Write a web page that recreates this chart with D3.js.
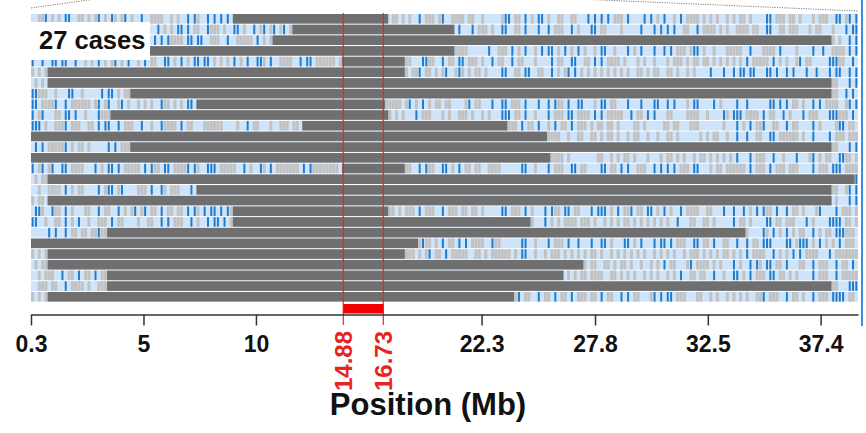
<!DOCTYPE html>
<html><head><meta charset="utf-8">
<script src="https://cdn.jsdelivr.net/npm/d3@7"></script>
<style>body{margin:0;background:#fff}svg{display:block}</style>
</head><body><svg id="c" width="866" height="433"></svg>
<script>
// ---------------- data ----------------
const markerCount = 250;                       // markers along the chromosome (x = marker index)
const cases = d3.range(1, 28).map(i => "case" + i);
// run of homozygosity per case: first marker, end marker (exclusive)
const rohStart = [61, 79, 73, 30, 94, 5, 5, 30, 50, 24, 82, 0, 30, 0, 94, 5, 50, 5, 61, 61, 23, 0, 5, 5, 23, 23, 5];
const rohEnd   = [108,128,242,128,113,113,242,242,107,108,144,156,242,157,113,249,242,242,108,151,216,117,113,167,161,242,146];
// genotype per marker: "." common, "g" grey call, "b" blue call; "_N" = N groups of 10 common markers
const genotypes = [
"..ggb.g.g. bb..gg.g.g b.g.bg.gb. g..b..gggg ..g.g..b.b g..b.b.b.b _4 .........g g.g.g..b.g gg.gb..ggg g.gg..g... ..gbb.gg.b .g.bb.g..g g..gg...b. b.b.b.ggg. b....b.b.g .b..g.b.gg gg.g.g.g.. g.g.gg.g.. ..bb.ggg.g g.g...g.gg g..bb.gb.b",
"g.g..b.g.. .gb..g.g.b ..g.g.b.gg .g..g...b. g.g.bb.b.g g..bggg.g. .bb.g..b.g b.gb.gb.g. _4 .........b ...b.ggg.g ..bb..gg.b ...b..b.gg g..b.g...b b.gg....g. ....b...b. b.b.b..gg. .b.gggg.g. g..gggg.gg ..bb..gg.g gg...g.gg. ..g...b.bb",
".g.bg..g.. g.b..g.gb. .gg.b..g.g ..g.g..b.b .bgggg.bb. bb..ggg..b ..ggggg.b. g.g....... _16 ..g.g..b.b",
"g.gb.g..g. b..g.g.b.. g.b..gg.b. _9 ........gg gg......b. .ggg.b.g.b ..g.b.bb.g .b.g.b.g.. g.bb..g... b.g.b...b. .b.b.ggg.g bb.g..g... ggggg..b.. .gggg.b... .g....b..b ..gggg.b.b",
"b..b..bb.b b..b..g.g. b.g.gb.g.b ..g.b.gg.. bb.g.b.g.b b.bb.g.g.g .b.g.b..bb g.b..gggg. .b.bb.gggg gg.g...... _1 ...gg...bb gg..b.gg.b b.ggg.g..b .gg..b.gg. ..g....b.g g..bb..gg. b.b.gggg.g ...g.g..g. ..g.ggg.g. gg.gg.g.g. g.g.g.b.gg ggg.b.g.g. .gb.gg.... .bbbgg..b.",
"g.g.g..... _10 ..gg.ggb.g g.g.gb..gb g.g.gg.g.. ..bb..gg.b b..gg..b.g .gb.b.g.g. g.g.g.g.g. g..gg.g.gg ..gg.g..g. g....b...b ..b.bb.bb. ..bb.b..b. b...b..b.. .b.bb..b.b",
".g.g...... _23 ..gg...b.b",
"bbggg..g.. .bb..g.... .b.bb.g.gg _21 ..gg..b.b.",
"bb.ggggb.. b.gggggg.g b.gb..gb.g ..g.g.g..b gg.g.g.bb. _5 .......ggg gg.gb.g.b. g.gg.gg... .gb.gg...b ..bb.ggg.b ...b..b.bg g.b..bb... g.bb.gg... b...b...bb ..b.b...g. bb....b.g. ...b..b... ...bb.b.b. gg.g..b.b. gggg..gb.b",
"b.gb...gg. bb.b..g... bggg...... _7 ........g. g.g...b.gg g...g.g..g gg.g..g.g. ..bbb.gg.b ..g...b.gg g.bb.gggg. b.b.ggggg. .b.gg.b.b. ..gg....gg gg..g....b g.bbb.gggg .b.gg..b.g ...b.ggg.. .bbbggg.b.",
"bbb.g..ggg b.ggg..gg. b.bb..b.gg g..b..g..b gggg.b.gg. ..gggggg.. ..g..b.gg. ..g..ggg.g g......... _5 ....ggg.b. gg.b..g.b. gg.b.ggg.g .gg.gg.g.. ..gg.g.... .gg.gg...g gg.......g ...b.g.b.g gb..gg..b. gg....b.g. ...gbb.gg.",
"_15 ......gggg ..g..gg..g g.g.gg.g.. g.gg..g..g ..gg.g.... ..g.g.gg.. g..b..b..g g..bb.gggg gg.g..b... .b.ggg.ggg",
".b.b.ggggg b.g.gg.g.. ...b.b.ggg _21 ..gg...b.b",
"_15 .......ggg g.g....... .gg..g.g.g g.g...g... g.gg.g.g.. g.gg.g.g.g .g.b...b.g gg..b..g.. .b...gb.g. gg..bbgg.g",
"b.gb.gb..b b.gggg...b .g.bb.b.gg ggg.b.bgg. bb.ggggb.b g..bbb.ggg gg..b.g..b g.b.gggggg g.b.bggggg ggg....... _1 ...gg..b.b gg..bb.g.b .gg.gg..gg gg......bb ..g...b.gg g..bb.gg.. ..bb.gg.b. b..ggg..b. b.b.b.ggg. bb...g.gg. gggggg.b.g gg.b.ggg.g gg....b.gg g.bbb.gggg",
".g.gg..... _23 .........b",
"..g..gggg. b.g.gg.... b.gbb.gb.. ..ggg.b..b g.ggg...b. _19 ..gg..gb.b",
"g.gg...... _23 .g.g...b.b",
".bbg..bgg. b.g...gg.. b.gg..b.g. gb.gb.gg.b .gg.gg.b.b g.b.bb.b.b g......... _3 ........gg .g.ggg.b.g gg..b.ggg. gg.gg.g... ..bb.ggg.b .g...b.bgg .bb.gg...b .bbb.g.b.g gb.gg.bb.g .b.g..b.gg gg..gg...b ..b..b.g.b .bgg.b..b. gg.g...gb. ...b.ggg.g",
"bb..g..gg. b.g.b..g.. ggg.b.gg.. ..g..gg..b .b.ggg..b. g..b.bb.b. g......... _8 .g...b.g.g .gggg.ggg. g..g.g.g.g g.g.g.g.g. g.g..b...g g..gg.g... ..b.gg.g.. ..bb.gg.gg g...b.g... .bbbb.gg.g",
".....b.b.. b.gg.gg.gg bgg....... _18 ......g... .bg.b.g.b. g.gg..b.g. gg.bbbggg.",
"_11 .......gbg g.g.b.gg.b .b.gggg..b gg......bb ..g...b.gg g.b..b...b ..bb.g...b b.g.b...b. bb.b.ggg.. bb.gg.b..g g..b..b.gg .bbb....bb .gbbb.g.b. g.g.b.ggg.",
"g.g.g..... _10 ..gggg.g.g b.gg.b.ggg gg..gg.g.g ggggg.g.bb ..g..g.ggg .g.g.g.g.g g.g..g.g.g .g.g.g..g. g.g.g..g.g gg.g.g.g.g g.g.g.b.gg gg..b.g.g. b.b.gggg.. .b.ggggggg",
".g.gg..... _15 .......g.g g..gg.g.gg .g..g..g.g .b.gg...gb .gggg.g.g. ..b.g..b.b g.bb.gg.b. ..gg..b.gg g..b.gg.b.",
"..g.ggg..b .gg.b.gg.b .gg....... _13 ..g.g.gg.g ggg..gg.g. g.g..g.g.g ..g.g.b..g g.gg..b..g ..bb.g.b.g gg.bb.gg.g .g....b.gg g..b.ggggg",
"..ggg.gg.. b.gggg.g.. ggg....... _21 ..gg...bbb",
"g.g.g..... _13 ......gb.g g..b.gg.b. gg.b.ggg.g g.b.gg..b. b.gg...gb. b.bb.ggg.. .gg..g.g.. g.g.g.g..g gb.ggg..b. gg.g..b.gg g.bbbb.gg."
];
// axis: marker index at which each labelled position (Mb) sits
const tickMarker = [0, 34, 68, 94.4, 106.5, 136.2, 170.5, 204.6, 238.7];
const tickLabels = ["0.3", "5", "10", "14.88", "16.73", "22.3", "27.8", "32.5", "37.4"];
const regionTicks = ["14.88", "16.73"];        // shared minimal region, drawn in red
const caseLabel = "27 cases";
const axisTitle = "Position (Mb)";

// ---------------- drawing ----------------
const FONT = "'Liberation Sans', Arial, Helvetica, sans-serif";
const COL = { bg: "#cde4fa", g: "#c2c2c2", b: "#1f7bcc", roh: "#6f6f6f", red: "#e8241f" };
const CALL_WIDTH = { g: 0.9, b: 0.6 };         // share of a marker slot each call type fills

function decode(s) {
  let out = "";
  s.trim().split(/\s+/).forEach(t => {
    if (t[0] === "_") out += ".".repeat(10 * (+t.slice(1) || 1));
    else out += t.padEnd(10, ".").slice(0, 10);
  });
  return out.padEnd(markerCount, ".").slice(0, markerCount);
}

const svg = d3.select("#c");
const x = d3.scaleLinear().domain([0, markerCount]).range([31, 858]);
const y = d3.scaleBand().domain(cases).range([14, 301.6]).paddingInner(0.1).paddingOuter(0);

// connector lines at the top (zoom from parent panel)
svg.append("line").attr("x1", x(0)).attr("y1", 8).attr("x2", 92).attr("y2", -0.5)
  .attr("stroke", "#808080").attr("stroke-dasharray", "1.2,1.2");
svg.append("line").attr("x1", 590).attr("y1", -0.5).attr("x2", x(markerCount)).attr("y2", 11)
  .attr("stroke", "#808080").attr("stroke-dasharray", "1.2,1.2");

const rows = svg.append("g");
cases.forEach((c, r) => {
  const g = rows.append("g");
  g.append("rect").attr("x", x(0)).attr("y", y(c))
    .attr("width", x(markerCount) - x(0)).attr("height", y.bandwidth()).attr("fill", COL.bg);
  const calls = decode(genotypes[r]).split("").map((ch, i) => ({ ch, i })).filter(d => d.ch !== ".");
  g.selectAll("rect.m").data(calls).join("rect").attr("class", "m")
    .attr("x", d => x(d.i + (1 - CALL_WIDTH[d.ch]) / 2)).attr("y", y(c))
    .attr("width", d => x(d.i + CALL_WIDTH[d.ch]) - x(d.i)).attr("height", y.bandwidth())
    .attr("fill", d => COL[d.ch]);
  g.append("rect").attr("x", x(rohStart[r])).attr("y", y(c))
    .attr("width", x(rohEnd[r]) - x(rohStart[r])).attr("height", y.bandwidth()).attr("fill", COL.roh);
});

// shared region
const regIdx = regionTicks.map(l => tickMarker[tickLabels.indexOf(l)]);
svg.selectAll("line.reg").data(regIdx).join("line").attr("class", "reg")
  .attr("x1", d => x(d)).attr("x2", d => x(d)).attr("y1", 13).attr("y2", 325)
  .attr("stroke", COL.red).attr("stroke-width", 1.2);
svg.append("rect").attr("x", x(regIdx[0])).attr("y", 304)
  .attr("width", x(regIdx[1]) - x(regIdx[0])).attr("height", 9.5).attr("fill", "#f00000");

// axis
const blackTicks = tickMarker.filter((d, i) => !regionTicks.includes(tickLabels[i]));
const axis = d3.axisBottom(x).tickValues(blackTicks)
  .tickFormat(d => tickLabels[tickMarker.indexOf(d)]).tickSize(11).tickSizeOuter(0);
const ag = svg.append("g").attr("transform", "translate(0,314.5)").call(axis);
ag.select(".domain").attr("stroke", "#333").attr("stroke-width", 1.6);
ag.selectAll(".tick line").attr("stroke", "#333").attr("stroke-width", 1.5);
ag.selectAll(".tick text").attr("y", 37.5).attr("dy", 0)
  .attr("font-family", FONT).attr("font-size", 23).attr("font-weight", "bold").attr("fill", "#111");

svg.selectAll("text.reg").data(regionTicks).join("text").attr("class", "reg")
  .attr("transform", (d, i) => `translate(${x(regIdx[i])},331) rotate(-90)`)
  .attr("text-anchor", "end").attr("dy", "0.36em")
  .attr("font-family", FONT).attr("font-size", 24).attr("font-weight", "bold")
  .attr("fill", COL.red).text(d => d);

svg.append("text").attr("x", 428).attr("y", 415).attr("text-anchor", "middle")
  .attr("font-family", FONT).attr("font-size", 31).attr("font-weight", "bold").attr("fill", "#111")
  .text(axisTitle);

// case count label
svg.append("rect").attr("x", 31).attr("y", 22).attr("width", 119).attr("height", 38).attr("fill", "#fff");
svg.append("text").attr("x", 39).attr("y", 48.5)
  .attr("font-family", FONT).attr("font-size", 25.5).attr("font-weight", "bold").attr("fill", "#111")
  .text(caseLabel);

// panel frame edge on the right
svg.append("line").attr("x1", 862).attr("x2", 862).attr("y1", 0).attr("y2", 326)
  .attr("stroke", "#3a8fe0").attr("stroke-width", 2);
</script>
</body></html>
